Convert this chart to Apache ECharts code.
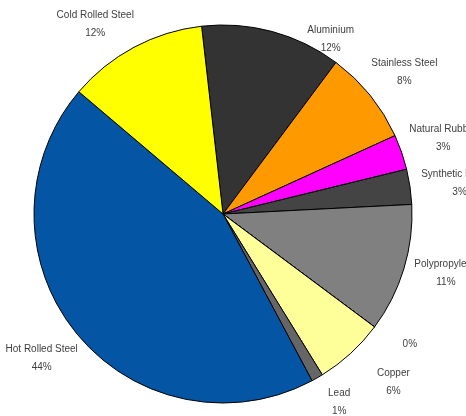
<!DOCTYPE html>
<html>
<head>
<meta charset="utf-8">
<style>
  html, body { margin: 0; padding: 0; background: #fff; }
  #chart { width: 466px; height: 416px; }
</style>
<script src="https://cdn.jsdelivr.net/npm/echarts@6/dist/echarts.min.js"></script>
</head>
<body>
<div id="chart"></div>
<script>
// Material share of the product, in percent, listed clockwise from the top
const materials = ['Aluminium', 'Stainless Steel', 'Natural Rubber', 'Synthetic Rubber',
  'Polypropylene', '', 'Copper', 'Lead', 'Hot Rolled Steel', 'Cold Rolled Steel'];
const shares = [12, 8, 3, 3, 11, 0, 6, 1, 44, 12];
const sliceColors = ['#333333', '#FF9900', '#FF00FF', '#444444',
  '#808080', '#FFFFFF', '#FFFF99', '#666666', '#0455A4', '#FFFF00'];

const CENTER = [223, 214];
const RADIUS = 189;
const LABEL_RING = 230;
const START = 96.5;

// nudges that keep labels inside the canvas and clear of each other
const labelNudge = {
  'Aluminium': [47, 50],
  'Cold Rolled Steel': [-18, 16],
  'Stainless Steel': [0, 5],
  'Synthetic Rubber': [6, 3],
  'Polypropylene': [0, -8],
  '': [0, -9],
  'Copper': [13, -4],
  'Lead': [0, -14],
  'Hot Rolled Steel': [0, -2]
};

const slices = materials.map((name, i) => ({
  name: name,
  value: shares[i],
  itemStyle: { color: sliceColors[i] }
}));

const labelFont = {
  fontFamily: '"Liberation Sans", Arial, sans-serif',
  fontSize: 10,
  color: '#404040',
  lineHeight: 18
};

const chart = echarts.init(document.getElementById('chart'), null, { renderer: 'canvas' });
chart.setOption({
  backgroundColor: '#ffffff',
  animation: false,
  series: [
    {
      type: 'pie',
      center: CENTER,
      radius: RADIUS,
      startAngle: START,
      clockwise: true,
      minAngle: 0,
      percentPrecision: 0,
      avoidLabelOverlap: false,
      silent: true,
      itemStyle: { borderColor: '#000000', borderWidth: 1 },
      label: { show: false },
      labelLine: { show: false },
      data: slices
    },
    {
      // transparent ring that only carries the outside labels
      type: 'pie',
      center: CENTER,
      radius: [LABEL_RING - 1, LABEL_RING + 1],
      startAngle: START,
      clockwise: true,
      minAngle: 0,
      percentPrecision: 0,
      avoidLabelOverlap: false,
      silent: true,
      itemStyle: { color: 'transparent', borderWidth: 0 },
      label: Object.assign({
        show: true,
        position: 'inside',
        formatter: p => (p.name ? p.name + '\n' : '') + p.percent + '%'
      }, labelFont),
      labelLine: { show: false },
      data: slices.map(s => ({
        name: s.name,
        value: s.value,
        label: { offset: labelNudge[s.name] || [0, 0] }
      }))
    }
  ]
});
</script>
</body>
</html>
